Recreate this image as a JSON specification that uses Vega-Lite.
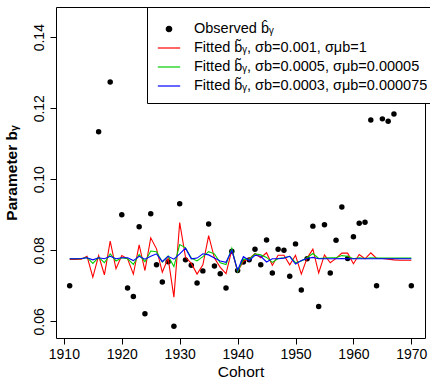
{
  "$schema": "https://vega.github.io/schema/vega-lite/v6.json",
  "autosize": {"type": "none"},
  "width": 369,
  "height": 331,
  "padding": {"left": 56, "top": 7, "right": 5, "bottom": 40},
  "config": {
    "view": {"stroke": "black", "strokeWidth": 1},
    "font": "Liberation Sans",
    "axis": {"grid": false, "domain": false, "tickColor": "black", "tickSize": 6, "labelColor": "black", "labelFont": "Liberation Sans", "labelFontSize": 14, "titleFont": "Liberation Sans", "titleColor": "black", "labelFlush": false}
  },
  "data": {"values": [
    {"year": 1911, "obs": 0.0700, "f1": 0.0774, "f2": 0.0776, "f3": 0.0776},
    {"year": 1912, "f1": 0.0774, "f2": 0.0776, "f3": 0.0776},
    {"year": 1913, "f1": 0.0775, "f2": 0.0776, "f3": 0.0777},
    {"year": 1914, "f1": 0.0783, "f2": 0.0780, "f3": 0.0779},
    {"year": 1915, "f1": 0.0724, "f2": 0.0763, "f3": 0.0773},
    {"year": 1916, "obs": 0.1134, "f1": 0.0785, "f2": 0.0780, "f3": 0.0779},
    {"year": 1917, "f1": 0.0731, "f2": 0.0765, "f3": 0.0776},
    {"year": 1918, "obs": 0.1274, "f1": 0.0826, "f2": 0.0790, "f3": 0.0783},
    {"year": 1919, "f1": 0.0748, "f2": 0.0770, "f3": 0.0776},
    {"year": 1920, "obs": 0.0900, "f1": 0.0785, "f2": 0.0779, "f3": 0.0779},
    {"year": 1921, "obs": 0.0694, "f1": 0.0776, "f2": 0.0776, "f3": 0.0779},
    {"year": 1922, "obs": 0.0670, "f1": 0.0733, "f2": 0.0760, "f3": 0.0771},
    {"year": 1923, "obs": 0.0866, "f1": 0.0815, "f2": 0.0788, "f3": 0.0783},
    {"year": 1924, "obs": 0.0621, "f1": 0.0743, "f2": 0.0768, "f3": 0.0775},
    {"year": 1925, "obs": 0.0903, "f1": 0.0835, "f2": 0.0798, "f3": 0.0783},
    {"year": 1926, "obs": 0.0759, "f1": 0.0804, "f2": 0.0796, "f3": 0.0790},
    {"year": 1927, "obs": 0.0711, "f1": 0.0738, "f2": 0.0767, "f3": 0.0768},
    {"year": 1928, "obs": 0.0768, "f1": 0.0778, "f2": 0.0784, "f3": 0.0783},
    {"year": 1929, "obs": 0.0586, "f1": 0.0668, "f2": 0.0754, "f3": 0.0775},
    {"year": 1930, "obs": 0.0931, "f1": 0.0878, "f2": 0.0816, "f3": 0.0790},
    {"year": 1931, "obs": 0.0773, "f1": 0.0781, "f2": 0.0807, "f3": 0.0806},
    {"year": 1932, "obs": 0.0758, "f1": 0.0763, "f2": 0.0778, "f3": 0.0776},
    {"year": 1933, "obs": 0.0708, "f1": 0.0733, "f2": 0.0770, "f3": 0.0778},
    {"year": 1934, "obs": 0.0742, "f1": 0.0759, "f2": 0.0782, "f3": 0.0790},
    {"year": 1935, "obs": 0.0874, "f1": 0.0841, "f2": 0.0796, "f3": 0.0787},
    {"year": 1936, "obs": 0.0756, "f1": 0.0778, "f2": 0.0790, "f3": 0.0778},
    {"year": 1937, "obs": 0.0734, "f1": 0.0752, "f2": 0.0765, "f3": 0.0770},
    {"year": 1938, "obs": 0.0694, "f1": 0.0734, "f2": 0.0760, "f3": 0.0766},
    {"year": 1939, "obs": 0.0797, "f1": 0.0801, "f2": 0.0806, "f3": 0.0800},
    {"year": 1940, "obs": 0.0743, "f1": 0.0740, "f2": 0.0740, "f3": 0.0744},
    {"year": 1941, "obs": 0.0767, "f1": 0.0769, "f2": 0.0775, "f3": 0.0782},
    {"year": 1942, "obs": 0.0773, "f1": 0.0776, "f2": 0.0774, "f3": 0.0771},
    {"year": 1943, "obs": 0.0803, "f1": 0.0791, "f2": 0.0790, "f3": 0.0786},
    {"year": 1944, "obs": 0.0759, "f1": 0.0779, "f2": 0.0787, "f3": 0.0783},
    {"year": 1945, "obs": 0.0829, "f1": 0.0793, "f2": 0.0780, "f3": 0.0767},
    {"year": 1946, "obs": 0.0736, "f1": 0.0758, "f2": 0.0766, "f3": 0.0776},
    {"year": 1947, "obs": 0.0803, "f1": 0.0786, "f2": 0.0777, "f3": 0.0776},
    {"year": 1948, "obs": 0.0800, "f1": 0.0786, "f2": 0.0779, "f3": 0.0778},
    {"year": 1949, "obs": 0.0727, "f1": 0.0759, "f2": 0.0783, "f3": 0.0783},
    {"year": 1950, "obs": 0.0818, "f1": 0.0786, "f2": 0.0765, "f3": 0.0761},
    {"year": 1951, "obs": 0.0688, "f1": 0.0733, "f2": 0.0770, "f3": 0.0771},
    {"year": 1952, "obs": 0.0776, "f1": 0.0778, "f2": 0.0779, "f3": 0.0777},
    {"year": 1953, "obs": 0.0868, "f1": 0.0803, "f2": 0.0791, "f3": 0.0780},
    {"year": 1954, "obs": 0.0642, "f1": 0.0736, "f2": 0.0777, "f3": 0.0776},
    {"year": 1955, "obs": 0.0872, "f1": 0.0787, "f2": 0.0778, "f3": 0.0776},
    {"year": 1956, "obs": 0.0736, "f1": 0.0765, "f2": 0.0779, "f3": 0.0776},
    {"year": 1957, "obs": 0.0828, "f1": 0.0777, "f2": 0.0779, "f3": 0.0776},
    {"year": 1958, "obs": 0.0922, "f1": 0.0792, "f2": 0.0785, "f3": 0.0777},
    {"year": 1959, "obs": 0.0777, "f1": 0.0792, "f2": 0.0783, "f3": 0.0776},
    {"year": 1960, "obs": 0.0838, "f1": 0.0762, "f2": 0.0776, "f3": 0.0776},
    {"year": 1961, "obs": 0.0876, "f1": 0.0788, "f2": 0.0779, "f3": 0.0776},
    {"year": 1962, "obs": 0.0879, "f1": 0.0776, "f2": 0.0777, "f3": 0.0776},
    {"year": 1963, "obs": 0.1167, "f1": 0.0793, "f2": 0.0779, "f3": 0.0776},
    {"year": 1964, "obs": 0.0700, "f1": 0.0777, "f2": 0.0778, "f3": 0.0776},
    {"year": 1965, "obs": 0.1170, "f1": 0.0777, "f2": 0.0778, "f3": 0.0776},
    {"year": 1966, "obs": 0.1163, "f1": 0.0775, "f2": 0.0778, "f3": 0.0776},
    {"year": 1967, "obs": 0.1184, "f1": 0.0773, "f2": 0.0778, "f3": 0.0776},
    {"year": 1968, "f1": 0.0772, "f2": 0.0778, "f3": 0.0776},
    {"year": 1969, "f1": 0.0772, "f2": 0.0778, "f3": 0.0776},
    {"year": 1970, "obs": 0.0700, "f1": 0.0772, "f2": 0.0778, "f3": 0.0776}
  ]},
  "transform": [
    {"fold": ["obs", "f1", "f2", "f3"], "as": ["series", "value"]},
    {"filter": "isValid(datum.value)"}
  ],
  "encoding": {
    "x": {"field": "year", "type": "quantitative", "scale": {"domain": [1908.64, 1972.36], "nice": false, "zero": false},
      "axis": {"values": [1910, 1920, 1930, 1940, 1950, 1960, 1970], "format": "d", "title": "Cohort", "titleFontSize": 15.5, "titleFontWeight": "normal", "titlePadding": 3, "labelPadding": 3}},
    "y": {"field": "value", "type": "quantitative", "scale": {"domain": [0.0553, 0.1485], "nice": false, "zero": false},
      "axis": {"values": [0.06, 0.08, 0.10, 0.12, 0.14], "format": ".2f", "labelAngle": -90, "labelAlign": "center", "labelBaseline": "bottom", "labelPadding": 4, "title": "Parameter bᵧ", "titleFontSize": 15.5, "titleFontWeight": "bold", "titlePadding": 13}},
    "color": {"field": "series", "type": "nominal",
      "scale": {"domain": ["obs", "f1", "f2", "f3"], "range": ["black", "#FF0000", "#00CD00", "#0000FF"]},
      "legend": {
        "orient": "none", "legendX": 91, "legendY": 0, "title": null,
        "strokeColor": "black", "fillColor": "white", "padding": 10,
        "symbolType": "stroke", "symbolSize": 400, "symbolStrokeWidth": 1.2,
        "labelFont": "Liberation Sans", "labelFontSize": 14.5, "labelColor": "black", "labelOffset": 13, "rowPadding": 0, "labelLimit": 400,
        "labelExpr": "datum.value === 'obs' ? 'Observed  b̂ᵧ' : datum.value === 'f1' ? 'Fitted  b̃ᵧ, σb=0.001, σμb=1' : datum.value === 'f2' ? 'Fitted  b̃ᵧ, σb=0.0005, σμb=0.00005' : 'Fitted  b̃ᵧ, σb=0.0003, σμb=0.000075'",
        "encode": {"symbols": {"update": {
          "shape": {"signal": "datum.value === 'obs' ? 'circle' : 'stroke'"},
          "fill": {"signal": "datum.value === 'obs' ? 'black' : 'transparent'"},
          "stroke": {"signal": "datum.value === 'obs' ? 'transparent' : scale('color', datum.value)"},
          "size": {"signal": "datum.value === 'obs' ? 30 : 500"},
          "strokeWidth": {"value": 1.2},
          "opacity": {"value": 1}
        }}}
      }}
  },
  "layer": [
    {"transform": [{"filter": "datum.series === 'obs'"}], "mark": {"type": "point", "filled": true, "size": 30, "opacity": 1}},
    {"transform": [{"filter": "datum.series === 'f1'"}], "mark": {"type": "line", "strokeWidth": 1.1}},
    {"transform": [{"filter": "datum.series === 'f2'"}], "mark": {"type": "line", "strokeWidth": 1.1}},
    {"transform": [{"filter": "datum.series === 'f3'"}], "mark": {"type": "line", "strokeWidth": 1.1}}
  ]
}
